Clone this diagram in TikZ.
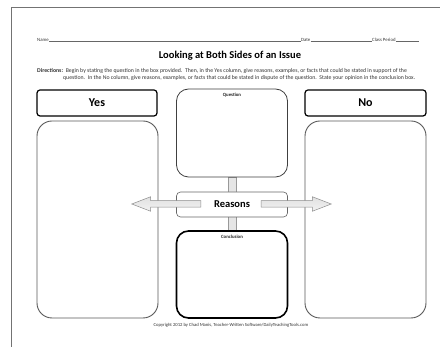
\documentclass[tikz,border=0pt]{standalone}
\usepackage{fontspec}
\setmainfont{Carlito}
\usetikzlibrary{shapes.arrows}
\begin{document}
\begin{tikzpicture}[x=1pt,y=-1pt,
  hdrbox/.style={draw=black,line width=1.2pt,rounded corners=3pt,font=\fontsize{12}{12}\selectfont\bfseries},
  bigbox/.style={draw=black!65,line width=0.9pt,rounded corners=15pt},
  midbox/.style={draw=black!75,line width=0.8pt,rounded corners=12pt},
  concbox/.style={draw=black,line width=1.6pt,rounded corners=12pt},
  reasbox/.style={draw=black!60,line width=0.6pt,rounded corners=4pt,font=\fontsize{10.5}{10.5}\selectfont\bfseries},
  tiny/.style={font=\fontsize{5.8}{5.8}\selectfont,text=black!80,inner sep=0pt},
  lbl/.style={font=\fontsize{4.8}{4.8}\selectfont\bfseries,text=black!85,inner sep=0pt},
  uline/.style={black!60,line width=0.35pt},
  fatarrow/.style={single arrow,draw=black!45,line width=0.5pt,top color=black!12,bottom color=black!5,
    minimum width=14pt,single arrow head extend=4pt,single arrow tip angle=42,inner sep=3pt},
  bar/.style={draw=black!40,fill=black!10,line width=0.5pt}]
\useasboundingbox (0,0) rectangle (440,347);
\fill[white] (0,0) rectangle (440,347);
% page edges
\draw[black!55,line width=0.6pt] (11,347) -- (11,7) -- (440,7);
% header line
\node[tiny,font=\fontsize{4.8}{4.8}\selectfont,anchor=south west] (name) at (37,41.5) {Name};
\node[tiny,font=\fontsize{4.8}{4.8}\selectfont,anchor=south west] (date) at (301,41.5) {Date};
\node[tiny,font=\fontsize{4.8}{4.8}\selectfont,anchor=south west] (cls) at (372,41.5) {Class Period};
\draw[uline] (name.south east) -- (date.south west);
\draw[uline] (date.south east) -- (cls.south west);
\draw[uline] (cls.south east) -- ++(23,0);
% title
\node[font=\fontsize{10.5}{10.5}\selectfont\bfseries,inner sep=0pt] (title) at (230,56) {Looking at Both Sides of an Issue};
% directions
\node[tiny,anchor=west] (dir1) at (37,71) {\textbf{Directions:}\ \ Begin by stating the question in the box provided.\ \ Then, in the Yes column, give reasons, examples, or facts that could be stated in support of the};
\node[tiny,anchor=west] (dir2) at (63,78) {question.\ \ In the No column, give reasons, examples, or facts that could be stated in dispute of the question.\ \ State your opinion in the conclusion box.};
% connector bar
\node[bar,minimum width=8pt,minimum height=54pt,inner sep=0pt] (vbar) at (232,204) {};
% boxes
\node[hdrbox,minimum width=120pt,minimum height=26pt] (yes) at (97,103) {Yes};
\node[hdrbox,minimum width=121pt,minimum height=26pt] (no) at (365.5,103) {No};
\node[bigbox,minimum width=121pt,minimum height=197pt] (yesbox) at (97.5,219.5) {};
\node[bigbox,minimum width=121pt,minimum height=197pt] (nobox) at (365.5,219.5) {};
\node[midbox,fill=white,minimum width=111pt,minimum height=88pt] (question) at (232,133) {};
\node[lbl,anchor=north] (qlab) at ([yshift=-4pt]question.north) {Question};
\node[concbox,fill=white,minimum width=111pt,minimum height=87pt] (conclusion) at (232,274.5) {};
\node[lbl,anchor=north] (clab) at ([yshift=-5pt]conclusion.north) {Conclusion};
\node[reasbox,fill=white,minimum width=111pt,minimum height=25pt] (reasons) at (232,204.5) {Reasons};
% arrows
\node[fatarrow,shape border rotate=180,minimum height=69pt] (larrow) at (170.5,204) {};
\node[fatarrow,minimum height=70pt] (rarrow) at (292,204) {};
% copyright
\node[tiny,font=\fontsize{4.65}{4.65}\selectfont] (copy) at (231,325) {Copyright 2012 by Chad Manis, Teacher-Written Software/DailyTeachingTools.com};
\end{tikzpicture}
\end{document}
